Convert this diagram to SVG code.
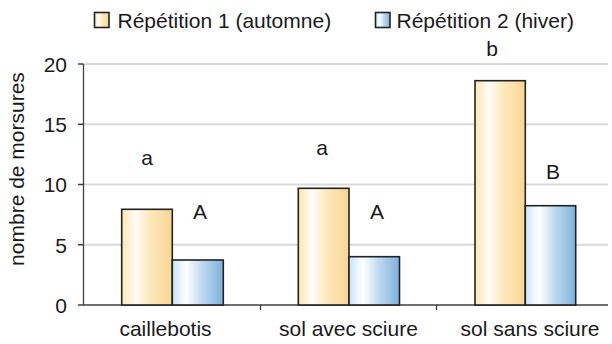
<svg xmlns="http://www.w3.org/2000/svg" width="612" height="344" viewBox="0 0 612 344">
<style>
text{font-family:"Liberation Sans",Arial,sans-serif;font-size:21px;fill:#1a1a1a}
.grid{stroke:#d9d9d9;stroke-width:2}
.axis{stroke:#404040;stroke-width:1.3;fill:none}
.bar1{fill:url(#gOr);stroke:#222;stroke-width:1.6}
.bar2{fill:url(#gBl);stroke:#222;stroke-width:1.6}
.tl{text-anchor:end}
.c{text-anchor:middle}
</style>
<defs>
<linearGradient id="gOr" x1="0" y1="0" x2="1" y2="0">
<stop offset="0" stop-color="#fbe6b4"/>
<stop offset="0.28" stop-color="#fffdf8"/>
<stop offset="0.55" stop-color="#fde9bd"/>
<stop offset="1" stop-color="#f8d592"/>
</linearGradient>
<linearGradient id="gBl" x1="0" y1="0" x2="1" y2="0">
<stop offset="0" stop-color="#c6e6f8"/>
<stop offset="0.28" stop-color="#ffffff"/>
<stop offset="0.6" stop-color="#bcd8ee"/>
<stop offset="1" stop-color="#7cb2de"/>
</linearGradient>
</defs>
<g id="legend">
<rect x="94.5" y="12.5" width="14.5" height="15" class="bar1" stroke-width="2"/>
<text x="117.5" y="28">Répétition 1 (automne)</text>
<rect x="375.5" y="12.5" width="14.5" height="15" class="bar2" stroke-width="2"/>
<text x="396.5" y="28">Répétition 2 (hiver)</text>
</g>
<g id="grid">
<line class="grid" x1="84" y1="64" x2="608" y2="64"/>
<line class="grid" x1="84" y1="124.25" x2="608" y2="124.25"/>
<line class="grid" x1="84" y1="184.5" x2="608" y2="184.5"/>
<line class="grid" x1="84" y1="244.75" x2="608" y2="244.75"/>
</g>
<g id="axes">
<path class="axis" d="M83.5 64V305H608"/>
<path class="axis" d="M78 64H83.5M78 124.25H83.5M78 184.5H83.5M78 244.75H83.5M78 305H83.5"/>
<path class="axis" d="M260.5 305V310M436.5 305V310"/>
<text class="tl" x="67" y="72">20</text>
<text class="tl" x="67" y="132">15</text>
<text class="tl" x="67" y="192">10</text>
<text class="tl" x="67" y="252.5">5</text>
<text class="tl" x="67" y="312.5">0</text>
<text class="c" transform="translate(24 169) rotate(-90)">nombre de morsures</text>
</g>
<g id="caillebotis">
<rect class="bar1" x="121.7" y="209.3" width="50.6" height="95.7"/>
<rect class="bar2" x="172.3" y="260" width="51" height="45"/>
<text class="c" x="147" y="165">a</text>
<text class="c" x="200" y="219">A</text>
<text class="c" x="165.5" y="336">caillebotis</text>
</g>
<g id="sol-avec-sciure">
<rect class="bar1" x="298.3" y="188.3" width="50.7" height="116.7"/>
<rect class="bar2" x="349" y="256.7" width="50.5" height="48.3"/>
<text class="c" x="322" y="155">a</text>
<text class="c" x="377" y="219">A</text>
<text class="c" x="348.4" y="336">sol avec sciure</text>
</g>
<g id="sol-sans-sciure">
<rect class="bar1" x="475" y="80.7" width="50.3" height="224.3"/>
<rect class="bar2" x="525.3" y="205.7" width="50.4" height="99.3"/>
<text class="c" x="492" y="56">b</text>
<text class="c" x="553" y="179">B</text>
<text class="c" x="530" y="336">sol sans sciure</text>
</g>
</svg>
